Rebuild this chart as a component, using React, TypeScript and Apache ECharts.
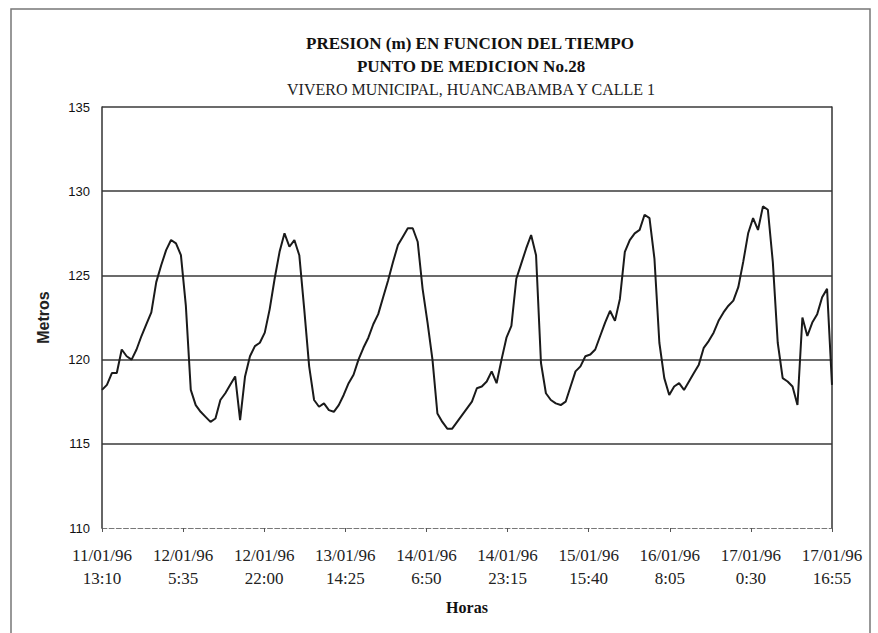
import React, { useEffect, useRef } from "react";
import * as echarts from "echarts";

// Chart texts
const titleLines = [
  "PRESION (m) EN FUNCION DEL TIEMPO",
  "PUNTO DE MEDICION No.28",
  "VIVERO MUNICIPAL, HUANCABAMBA Y CALLE 1",
];
const xAxisName = "Horas";
const yAxisName = "Metros";

// Category tick labels (every 985 minutes = 16h25m)
const tickDates = [
  "11/01/96", "12/01/96", "12/01/96", "13/01/96", "14/01/96",
  "14/01/96", "15/01/96", "16/01/96", "17/01/96", "17/01/96",
];
const tickTimes = [
  "13:10", "5:35", "22:00", "14:25", "6:50",
  "23:15", "15:40", "8:05", "0:30", "16:55",
];
const tickStepMinutes = 985;

// Pressure readings (m), sampled evenly from 11/01/96 13:10 to 17/01/96 16:55
const pressure = [
  118.2, 118.5, 119.2, 119.2, 120.6, 120.2, 120.0, 120.6, 121.4, 122.1,
  122.8, 124.6, 125.6, 126.5, 127.1, 126.9, 126.2, 123.2, 118.2, 117.3,
  116.9, 116.6, 116.3, 116.5, 117.6, 118.0, 118.5, 119.0, 116.4, 119.0,
  120.2, 120.8, 121.0, 121.6, 123.0, 124.8, 126.4, 127.5, 126.7, 127.1,
  126.2, 123.0, 119.6, 117.6, 117.2, 117.4, 117.0, 116.9, 117.3, 117.9,
  118.6, 119.1, 120.0, 120.7, 121.3, 122.1, 122.7, 123.7, 124.7, 125.8,
  126.8, 127.3, 127.8, 127.8, 127.0, 124.2, 122.2, 120.0, 116.8, 116.3,
  115.9, 115.9, 116.3, 116.7, 117.1, 117.5, 118.3, 118.4, 118.7, 119.3,
  118.6, 120.0, 121.3, 122.0, 124.8, 125.7, 126.6, 127.4, 126.2, 119.8,
  118.0, 117.6, 117.4, 117.3, 117.5, 118.4, 119.3, 119.6, 120.2, 120.3,
  120.6, 121.4, 122.2, 122.9, 122.3, 123.6, 126.4, 127.1, 127.5, 127.7,
  128.6, 128.4, 126.0, 121.0, 118.9, 117.9, 118.4, 118.6, 118.2, 118.7,
  119.2, 119.7, 120.7, 121.1, 121.6, 122.3, 122.8, 123.2, 123.5, 124.3,
  125.8, 127.5, 128.4, 127.7, 129.1, 128.9, 125.8, 121.0, 118.9, 118.7,
  118.4, 117.3, 122.5, 121.4, 122.2, 122.7, 123.7, 124.2, 118.5,
];

const yMin = 110;
const yMax = 135;
const yInterval = 5;

export default function App() {
  const ref = useRef<HTMLDivElement>(null);

  useEffect(() => {
    if (!ref.current) return;
    const chart = echarts.init(ref.current, undefined, { renderer: "svg" });
    const totalMinutes = tickStepMinutes * (tickDates.length - 1);
    const step = totalMinutes / (pressure.length - 1);
    const seriesData = pressure.map((v, i) => [i * step, v]);

    const serif = "'Liberation Serif', 'Times New Roman', serif";
    const sans = "'Liberation Sans', Arial, sans-serif";

    const titleText = (text: string, x: number, y: number, bold: boolean) => ({
      type: "text",
      x,
      y,
      style: {
        text,
        font: `${bold ? "bold 17px" : "16px"} ${serif}`,
        fill: bold ? "#111" : "#222",
        align: "center",
        verticalAlign: "middle",
        textAlign: "center",
        textVerticalAlign: "middle",
      },
    });

    chart.setOption({
      animation: false,
      backgroundColor: "#ffffff",
      graphic: [
        {
          type: "rect",
          silent: true,
          z: -10,
          shape: { x: 11, y: 9, width: 859, height: 640 },
          style: { fill: "none", stroke: "#777", lineWidth: 1.5 },
        },
        titleText(titleLines[0], 470, 43, true),
        titleText(titleLines[1], 471, 66, true),
        titleText(titleLines[2], 471, 89, false),
      ],
      grid: { left: 102, top: 107, right: 46, bottom: 105, containLabel: false },
      xAxis: {
        type: "value",
        min: 0,
        max: totalMinutes,
        interval: tickStepMinutes,
        name: xAxisName,
        nameLocation: "middle",
        nameGap: 71,
        nameTextStyle: { fontFamily: serif, fontWeight: "bold", fontSize: 16, color: "#111" },
        axisLine: { show: true, lineStyle: { color: "#777", width: 1.2, type: "dashed" } },
        axisTick: { show: true, length: 4, inside: false, lineStyle: { color: "#555" } },
        splitLine: { show: false },
        axisLabel: {
          fontFamily: serif,
          fontSize: 17,
          color: "#222",
          lineHeight: 23,
          margin: 16,
          showMinLabel: true,
          showMaxLabel: true,
          formatter: (v: number) => {
            const idx = Math.round(v / tickStepMinutes);
            return `${tickDates[idx] ?? ""}\n${tickTimes[idx] ?? ""}`;
          },
        },
      },
      yAxis: [
        {
          type: "value",
          min: yMin,
          max: yMax,
          interval: yInterval,
          name: yAxisName,
          nameLocation: "middle",
          nameGap: 51,
          nameRotate: 90,
          nameTextStyle: { fontFamily: sans, fontWeight: "bold", fontSize: 16, color: "#222" },
          axisLine: { show: true, lineStyle: { color: "#333", width: 1.5 } },
          axisTick: { show: false },
          axisLabel: { fontFamily: sans, fontSize: 13, color: "#111", margin: 12 },
          splitLine: {
            show: true,
            lineStyle: {
              color: ["transparent", "#3a3a3a", "#3a3a3a", "#3a3a3a", "#3a3a3a", "#3a3a3a"],
              width: 1.5,
            },
          },
        },
        {
          type: "value",
          min: yMin,
          max: yMax,
          interval: yInterval,
          position: "right",
          axisLine: { show: true, lineStyle: { color: "#333", width: 1.5 } },
          axisTick: { show: false },
          axisLabel: { show: false },
          splitLine: { show: false },
        },
      ],
      series: [
        {
          type: "line",
          data: seriesData,
          showSymbol: false,
          symbol: "none",
          lineStyle: { color: "#1a1a1a", width: 2 },
          yAxisIndex: 0,
        },
      ],
    });

    return () => chart.dispose();
  }, []);

  return (
    <div
      ref={ref}
      style={{ position: "fixed", left: 0, top: 0, width: 878, height: 633 }}
    />
  );
}
